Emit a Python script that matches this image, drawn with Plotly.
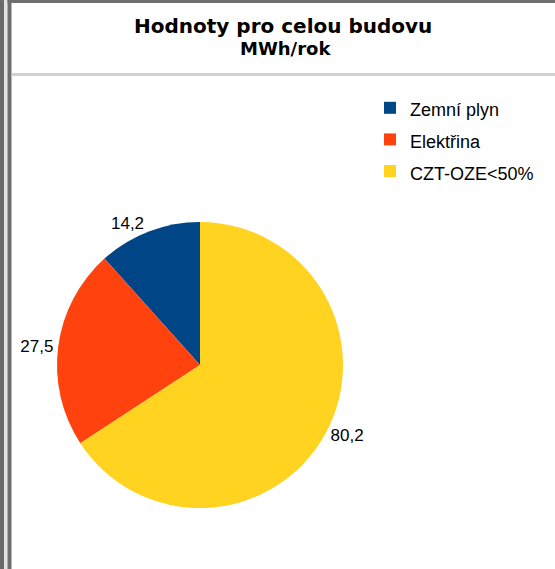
import plotly.graph_objects as go

W, H = 555, 569

categories = ["Zemní plyn", "Elektřina", "CZT-OZE<50%"]
values = [14.2, 27.5, 80.2]
value_labels = ["14,2", "27,5", "80,2"]
colors = ["#004586", "#ff420e", "#ffd320"]

title_main = "Hodnoty pro celou budovu"
title_sub = "MWh/rok"

def px(x):
    return x / W

def py(y):
    return 1 - y / H

legend_labels = [f"<span style='font-size:18px'>{c}</span>" for c in categories]

# first slice starts at 12 o'clock and runs counter-clockwise
start_rot = -360.0 * values[0] / sum(values)

fig = go.Figure(go.Pie(
    labels=legend_labels,
    values=values,
    text=value_labels,
    textinfo="text",
    textposition="outside",
    textfont=dict(family="Liberation Sans", size=17, color="#000000"),
    marker=dict(colors=colors, line=dict(width=0)),
    sort=False,
    direction="counterclockwise",
    rotation=start_rot,
    hole=0,
    automargin=False,
    domain=dict(x=[px(57), px(343)], y=[py(508), py(222)]),
    hoverinfo="label+value",
))

shapes = [
    dict(type="rect", x0=px(0), x1=px(4), y0=0, y1=1, fillcolor="#6a6a6a", line_width=0),
    dict(type="rect", x0=px(4), x1=px(7.5), y0=0, y1=1, fillcolor="#e2e2e2", line_width=0),
    dict(type="rect", x0=px(7.5), x1=px(11.5), y0=0, y1=py(0), fillcolor="#6e6e6e", line_width=0),
    dict(type="rect", x0=px(7.5), x1=1, y0=py(3), y1=1, fillcolor="#6e6e6e", line_width=0),
    dict(type="rect", x0=px(11.5), x1=1, y0=py(76), y1=py(73), fillcolor="#d2d2d2", line_width=0),
]

annotations = [
    dict(text=f"<b>{title_main}</b>", x=px(283), y=py(26), xref="paper", yref="paper",
         xanchor="center", yanchor="middle", showarrow=False, borderpad=0,
         font=dict(family="DejaVu Sans", size=20, color="#000000")),
    dict(text=f"<b>{title_sub}</b>", x=px(285), y=py(48.5), xref="paper", yref="paper",
         xanchor="center", yanchor="middle", showarrow=False, borderpad=0,
         font=dict(family="DejaVu Sans", size=18, color="#000000")),
]

fig.update_layout(
    width=W, height=H,
    margin=dict(l=0, r=0, t=0, b=0),
    paper_bgcolor="#ffffff",
    plot_bgcolor="#ffffff",
    font=dict(family="Liberation Sans", color="#000000"),
    legend=dict(
        x=px(370), xanchor="left",
        y=py(87), yanchor="top",
        font=dict(family="Liberation Sans", size=22, color="#000000"),
        bgcolor="rgba(0,0,0,0)",
    ),
    shapes=shapes,
    annotations=annotations,
)

fig.write_html("out.html", config={"displayModeBar": False},
               post_script="document.body.style.margin='0';")
